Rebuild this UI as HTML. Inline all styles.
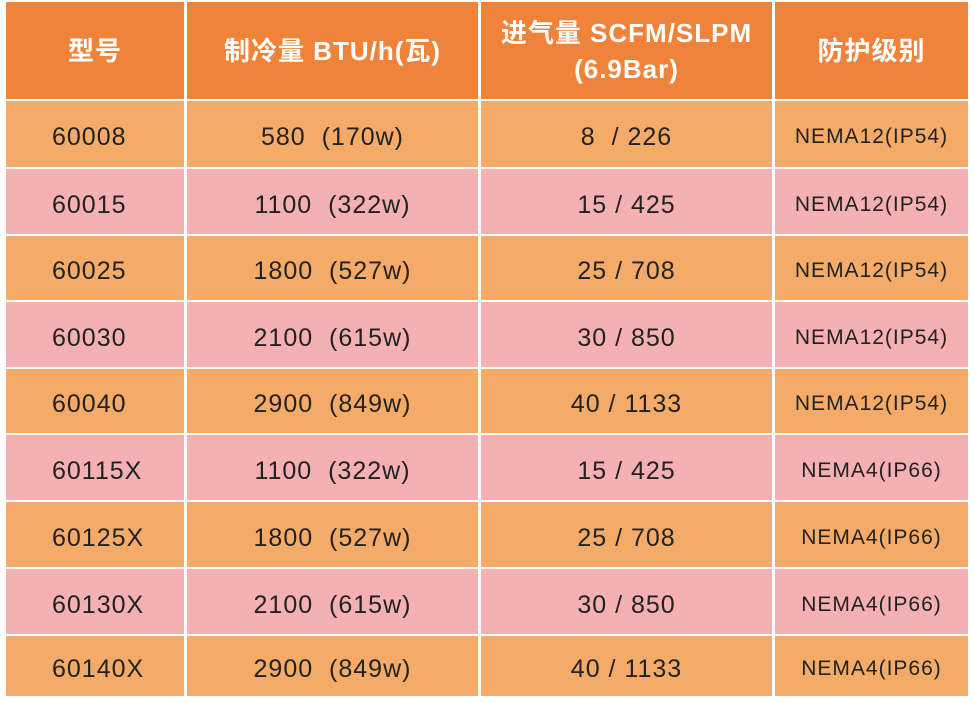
<!DOCTYPE html>
<html><head><meta charset="utf-8"><style>
body{margin:0;width:974px;height:703px;background:#fff;overflow:hidden;font-family:"Liberation Sans","Noto Sans CJK SC",sans-serif;}
.c{position:absolute;display:flex;align-items:center;justify-content:center;color:#222;font-size:25px;letter-spacing:1px;box-sizing:border-box;padding-top:6px;line-height:30px;white-space:pre}
.h{background:#F0833A;color:#fff;font-weight:bold;font-size:26px;padding-top:0;line-height:36px;text-align:center;white-space:normal}
.o{background:#F5AB68}.p{background:#F4B0B2}
.l{justify-content:flex-start;padding-left:46px}
.s{font-size:21px}
</style></head><body>
<div id="t"></div>
<script>
const cols=[[6,178],[187,291],[481,291],[775,193]];
const rows=[["60008","580  (170w)","8  / 226","NEMA12(IP54)"],["60015","1100  (322w)","15 / 425","NEMA12(IP54)"],["60025","1800  (527w)","25 / 708","NEMA12(IP54)"],["60030","2100  (615w)","30 / 850","NEMA12(IP54)"],["60040","2900  (849w)","40 / 1133","NEMA12(IP54)"],["60115X","1100  (322w)","15 / 425","NEMA4(IP66)"],["60125X","1800  (527w)","25 / 708","NEMA4(IP66)"],["60130X","2100  (615w)","30 / 850","NEMA4(IP66)"],["60140X","2900  (849w)","40 / 1133","NEMA4(IP66)"]];
const hd=["型号","制冷量 BTU/h(瓦)","进气量 SCFM/SLPM<br>(6.9Bar)","防护级别"];
let h="";
hd.forEach((t,i)=>{h+=`<div class="c h" style="left:${cols[i][0]}px;top:2px;width:${cols[i][1]}px;height:97px">${t}</div>`});
const ys=[101,169,236,302,369,435,502,569,636,698];
rows.forEach((r,j)=>{const cl=j%2?"p":"o";r.forEach((t,i)=>{h+=`<div class="c ${cl} ${i==0?'l':''} ${i==3?'s':''}" style="left:${cols[i][0]}px;top:${ys[j]}px;width:${cols[i][1]}px;height:${ys[j+1]-ys[j]-2}px">${t}</div>`})});
document.getElementById("t").innerHTML=h;
</script>
</body></html>
